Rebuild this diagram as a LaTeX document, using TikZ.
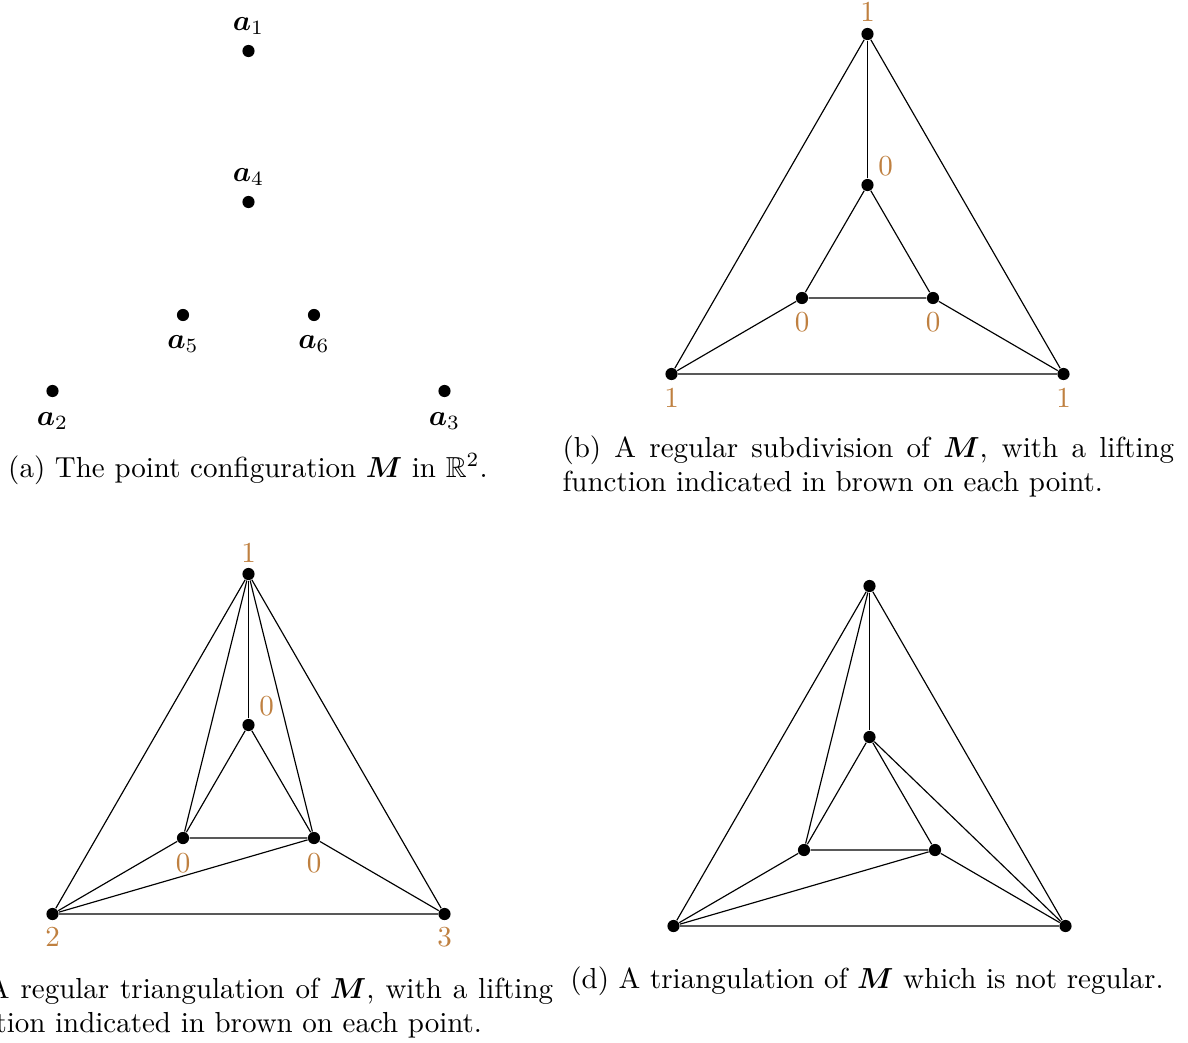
\documentclass[tikz,border=0pt]{standalone}
\usepackage{amsmath,amssymb,bm}
\definecolor{liftbrown}{rgb}{0.75,0.5,0.25}
\tikzset{
  pt/.style={circle,fill=black,inner sep=0pt,minimum size=4.2pt},
  lift/.style={text=liftbrown,anchor=base,inner sep=0pt},
  ptlabel/.style={anchor=base,inner sep=0pt},
  edge/.style={line width=0.4pt},
  capjust/.style={inner sep=0pt,anchor=base west,text width=211pt,align=justify},
  capone/.style={inner sep=0pt,anchor=base}
}
\newcommand\sixpoints[1]{%
  \node[pt] (#1T) at (0,0) {};
  \node[pt] (#1I) at (0,151) {};
  \node[pt] (#1L) at (-65.5,264) {};
  \node[pt] (#1R) at (65.5,264) {};
  \node[pt] (#1BL) at (-196,340) {};
  \node[pt] (#1BR) at (196,340) {};
}
\begin{document}
\begin{tikzpicture}[x=0.345pt,y=-0.345pt]
\useasboundingbox (0,0) rectangle (1188,1042);

% ---------- (a)
\begin{scope}[shift={(248.5,51)}]
  \sixpoints{a}
  \node[ptlabel] (la1) at (0,-21) {$\bm{a}_1$};
  \node[ptlabel] (la4) at (0,130) {$\bm{a}_4$};
  \node[ptlabel] (la5) at (-65.5,297) {$\bm{a}_5$};
  \node[ptlabel] (la6) at (65.5,297) {$\bm{a}_6$};
  \node[ptlabel] (la2) at (-196,374) {$\bm{a}_2$};
  \node[ptlabel] (la3) at (196,374) {$\bm{a}_3$};
\end{scope}
\node[capone] (capa) at (248,477) {(a) The point configuration $\bm{M}$ in $\mathbb{R}^2$.};

% ---------- (b)
\begin{scope}[shift={(867.5,34)}]
  \sixpoints{b}
  \node[lift] (lbT) at (0,-13) {1};
  \node[lift] (lbI) at (18,141) {0};
  \node[lift] (lbL) at (-65.5,297) {0};
  \node[lift] (lbR) at (65.5,297) {0};
  \node[lift] (lbBL) at (-196,373) {1};
  \node[lift] (lbBR) at (196,373) {1};
\end{scope}
\draw[edge] (bT) -- (bBL) -- (bBR) -- (bT);
\draw[edge] (bT) -- (bI);
\draw[edge] (bI) -- (bL) -- (bR) -- (bI);
\draw[edge] (bL) -- (bBL);
\draw[edge] (bR) -- (bBR);
\node[capjust] (capb) at (562,457) {(b) A regular subdivision of $\bm{M}$, with a lifting function indicated in brown on each point.};

% ---------- (c)
\begin{scope}[shift={(248.5,574)}]
  \sixpoints{c}
  \node[lift] (lcT) at (0,-12) {1};
  \node[lift] (lcI) at (18,141) {0};
  \node[lift] (lcL) at (-65.5,298) {0};
  \node[lift] (lcR) at (65.5,298) {0};
  \node[lift] (lcBL) at (-196,372) {2};
  \node[lift] (lcBR) at (196,372) {3};
\end{scope}
\draw[edge] (cT) -- (cBL) -- (cBR) -- (cT);
\draw[edge] (cT) -- (cI);
\draw[edge] (cT) -- (cL);
\draw[edge] (cT) -- (cR);
\draw[edge] (cI) -- (cL) -- (cR) -- (cI);
\draw[edge] (cL) -- (cBL);
\draw[edge] (cR) -- (cBR);
\draw[edge] (cBL) -- (cR);
\node[capjust] (capc) at (-59,998) {(c) A regular triangulation of $\bm{M}$, with a lifting function indicated in brown on each point.};

% ---------- (d)
\begin{scope}[shift={(869.5,586)}]
  \sixpoints{d}
\end{scope}
\draw[edge] (dT) -- (dBL) -- (dBR) -- (dT);
\draw[edge] (dT) -- (dI);
\draw[edge] (dT) -- (dL);
\draw[edge] (dI) -- (dL) -- (dR) -- (dI);
\draw[edge] (dL) -- (dBL);
\draw[edge] (dBL) -- (dR);
\draw[edge] (dR) -- (dBR);
\draw[edge] (dI) -- (dBR);
\node[capone] (capd) at (867,988) {(d) A triangulation of $\bm{M}$ which is not regular.};
\end{tikzpicture}
\end{document}
